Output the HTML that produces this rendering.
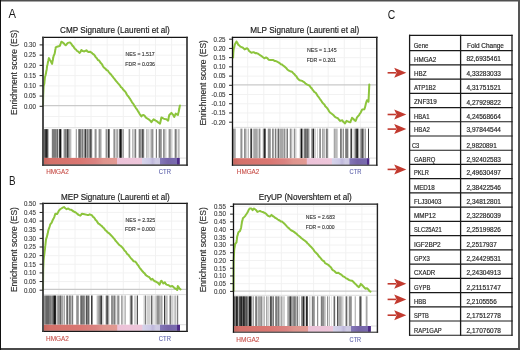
<!DOCTYPE html>
<html><head><meta charset="utf-8"><title>GSEA figure</title>
<style>html,body{margin:0;padding:0;background:#fff;}body{width:520px;height:350px;overflow:hidden;}svg{display:block;will-change:transform;font-family:"Liberation Sans", sans-serif;}</style>
</head><body>
<svg width="520" height="350" viewBox="0 0 520 350">
<defs><linearGradient id="cbar" x1="0" y1="0" x2="1" y2="0"><stop offset="0" stop-color="#c8665e"/><stop offset="0.045" stop-color="#d4716a"/><stop offset="0.27" stop-color="#da7772"/><stop offset="0.38" stop-color="#da8381"/><stop offset="0.44" stop-color="#df948d"/><stop offset="0.538" stop-color="#e29a93"/><stop offset="0.5415" stop-color="#ecc2d8"/><stop offset="0.7219" stop-color="#eec6da"/><stop offset="0.7255" stop-color="#d6d4ea"/><stop offset="0.78" stop-color="#cdc9e6"/><stop offset="0.80" stop-color="#bfb8db"/><stop offset="0.824" stop-color="#cfcbe4"/><stop offset="0.853" stop-color="#cdc8e2"/><stop offset="0.856" stop-color="#8478b8"/><stop offset="0.913" stop-color="#7664a8"/><stop offset="0.9794" stop-color="#7a6cb0"/><stop offset="0.9816" stop-color="#4f2b88"/><stop offset="1" stop-color="#4a2885"/></linearGradient></defs>
<rect x="0" y="0" width="520" height="350" fill="#fff"/>
<line x1="58.90" y1="38.00" x2="58.90" y2="127.20" stroke="#f1f1f1" stroke-width="0.9"/>
<line x1="75.00" y1="38.00" x2="75.00" y2="127.20" stroke="#f1f1f1" stroke-width="0.9"/>
<line x1="91.10" y1="38.00" x2="91.10" y2="127.20" stroke="#f1f1f1" stroke-width="0.9"/>
<line x1="107.20" y1="38.00" x2="107.20" y2="127.20" stroke="#f1f1f1" stroke-width="0.9"/>
<line x1="123.30" y1="38.00" x2="123.30" y2="127.20" stroke="#f1f1f1" stroke-width="0.9"/>
<line x1="139.40" y1="38.00" x2="139.40" y2="127.20" stroke="#f1f1f1" stroke-width="0.9"/>
<line x1="155.50" y1="38.00" x2="155.50" y2="127.20" stroke="#f1f1f1" stroke-width="0.9"/>
<line x1="171.60" y1="38.00" x2="171.60" y2="127.20" stroke="#f1f1f1" stroke-width="0.9"/>
<line x1="43.90" y1="44.90" x2="186.20" y2="44.90" stroke="#f1f1f1" stroke-width="0.9"/>
<line x1="43.90" y1="55.13" x2="186.20" y2="55.13" stroke="#f1f1f1" stroke-width="0.9"/>
<line x1="43.90" y1="65.37" x2="186.20" y2="65.37" stroke="#f1f1f1" stroke-width="0.9"/>
<line x1="43.90" y1="75.60" x2="186.20" y2="75.60" stroke="#f1f1f1" stroke-width="0.9"/>
<line x1="43.90" y1="85.83" x2="186.20" y2="85.83" stroke="#f1f1f1" stroke-width="0.9"/>
<line x1="43.90" y1="96.07" x2="186.20" y2="96.07" stroke="#f1f1f1" stroke-width="0.9"/>
<line x1="43.90" y1="116.53" x2="186.20" y2="116.53" stroke="#f1f1f1" stroke-width="0.9"/>
<line x1="43.90" y1="105.60" x2="186.20" y2="105.60" stroke="#cacaca" stroke-width="1.2"/>
<line x1="43.90" y1="127.70" x2="186.20" y2="127.70" stroke="#d4d4d4" stroke-width="0.8"/>
<rect x="44" y="129.10" width="1" height="28.80" fill="#666666"/>
<rect x="45" y="129.10" width="1" height="28.80" fill="#3c3c3c"/>
<rect x="46" y="129.10" width="1" height="28.80" fill="#262626"/>
<rect x="47" y="129.10" width="1" height="28.80" fill="#515151"/>
<rect x="48" y="129.10" width="1" height="28.80" fill="#bbbbbb"/>
<rect x="51" y="129.10" width="1" height="28.80" fill="#e6e6e6"/>
<rect x="52" y="129.10" width="1" height="28.80" fill="#7b7b7b"/>
<rect x="53" y="129.10" width="1" height="28.80" fill="#7b7b7b"/>
<rect x="54" y="129.10" width="1" height="28.80" fill="#7b7b7b"/>
<rect x="55" y="129.10" width="1" height="28.80" fill="#7b7b7b"/>
<rect x="56" y="129.10" width="1" height="28.80" fill="#909090"/>
<rect x="57" y="129.10" width="1" height="28.80" fill="#666666"/>
<rect x="58" y="129.10" width="1" height="28.80" fill="#d0d0d0"/>
<rect x="59" y="129.10" width="1" height="28.80" fill="#3c3c3c"/>
<rect x="60" y="129.10" width="1" height="28.80" fill="#141414"/>
<rect x="61" y="129.10" width="1" height="28.80" fill="#a6a6a6"/>
<rect x="63" y="129.10" width="1" height="28.80" fill="#d0d0d0"/>
<rect x="64" y="129.10" width="1" height="28.80" fill="#909090"/>
<rect x="65" y="129.10" width="1" height="28.80" fill="#7b7b7b"/>
<rect x="66" y="129.10" width="1" height="28.80" fill="#909090"/>
<rect x="67" y="129.10" width="1" height="28.80" fill="#3c3c3c"/>
<rect x="68" y="129.10" width="1" height="28.80" fill="#7b7b7b"/>
<rect x="69" y="129.10" width="1" height="28.80" fill="#a6a6a6"/>
<rect x="70" y="129.10" width="1" height="28.80" fill="#bbbbbb"/>
<rect x="71" y="129.10" width="1" height="28.80" fill="#e6e6e6"/>
<rect x="75" y="129.10" width="1" height="28.80" fill="#e6e6e6"/>
<rect x="76" y="129.10" width="1" height="28.80" fill="#a6a6a6"/>
<rect x="78" y="129.10" width="1" height="28.80" fill="#909090"/>
<rect x="79" y="129.10" width="1" height="28.80" fill="#666666"/>
<rect x="80" y="129.10" width="1" height="28.80" fill="#7b7b7b"/>
<rect x="81" y="129.10" width="1" height="28.80" fill="#a6a6a6"/>
<rect x="82" y="129.10" width="1" height="28.80" fill="#7b7b7b"/>
<rect x="83" y="129.10" width="1" height="28.80" fill="#bbbbbb"/>
<rect x="84" y="129.10" width="1" height="28.80" fill="#909090"/>
<rect x="85" y="129.10" width="1" height="28.80" fill="#3c3c3c"/>
<rect x="86" y="129.10" width="1" height="28.80" fill="#a6a6a6"/>
<rect x="87" y="129.10" width="1" height="28.80" fill="#7b7b7b"/>
<rect x="88" y="129.10" width="1" height="28.80" fill="#a6a6a6"/>
<rect x="89" y="129.10" width="1" height="28.80" fill="#909090"/>
<rect x="90" y="129.10" width="1" height="28.80" fill="#515151"/>
<rect x="91" y="129.10" width="1" height="28.80" fill="#7b7b7b"/>
<rect x="92" y="129.10" width="1" height="28.80" fill="#e6e6e6"/>
<rect x="94" y="129.10" width="1" height="28.80" fill="#d0d0d0"/>
<rect x="95" y="129.10" width="1" height="28.80" fill="#909090"/>
<rect x="96" y="129.10" width="1" height="28.80" fill="#bbbbbb"/>
<rect x="98" y="129.10" width="1" height="28.80" fill="#d0d0d0"/>
<rect x="99" y="129.10" width="1" height="28.80" fill="#909090"/>
<rect x="100" y="129.10" width="1" height="28.80" fill="#a6a6a6"/>
<rect x="101" y="129.10" width="1" height="28.80" fill="#d0d0d0"/>
<rect x="105" y="129.10" width="1" height="28.80" fill="#d0d0d0"/>
<rect x="106" y="129.10" width="1" height="28.80" fill="#909090"/>
<rect x="107" y="129.10" width="1" height="28.80" fill="#bbbbbb"/>
<rect x="108" y="129.10" width="1" height="28.80" fill="#3c3c3c"/>
<rect x="109" y="129.10" width="1" height="28.80" fill="#7b7b7b"/>
<rect x="113" y="129.10" width="1" height="28.80" fill="#bbbbbb"/>
<rect x="114" y="129.10" width="1" height="28.80" fill="#909090"/>
<rect x="115" y="129.10" width="1" height="28.80" fill="#d0d0d0"/>
<rect x="116" y="129.10" width="1" height="28.80" fill="#bbbbbb"/>
<rect x="117" y="129.10" width="1" height="28.80" fill="#a6a6a6"/>
<rect x="118" y="129.10" width="1" height="28.80" fill="#e6e6e6"/>
<rect x="119" y="129.10" width="1" height="28.80" fill="#666666"/>
<rect x="120" y="129.10" width="1" height="28.80" fill="#141414"/>
<rect x="121" y="129.10" width="1" height="28.80" fill="#515151"/>
<rect x="122" y="129.10" width="1" height="28.80" fill="#bbbbbb"/>
<rect x="123" y="129.10" width="1" height="28.80" fill="#a6a6a6"/>
<rect x="128" y="129.10" width="1" height="28.80" fill="#d0d0d0"/>
<rect x="129" y="129.10" width="1" height="28.80" fill="#909090"/>
<rect x="130" y="129.10" width="1" height="28.80" fill="#e6e6e6"/>
<rect x="132" y="129.10" width="1" height="28.80" fill="#bbbbbb"/>
<rect x="133" y="129.10" width="1" height="28.80" fill="#d0d0d0"/>
<rect x="134" y="129.10" width="1" height="28.80" fill="#bbbbbb"/>
<rect x="135" y="129.10" width="1" height="28.80" fill="#7b7b7b"/>
<rect x="136" y="129.10" width="1" height="28.80" fill="#e6e6e6"/>
<rect x="138" y="129.10" width="1" height="28.80" fill="#d0d0d0"/>
<rect x="139" y="129.10" width="1" height="28.80" fill="#7b7b7b"/>
<rect x="140" y="129.10" width="1" height="28.80" fill="#909090"/>
<rect x="141" y="129.10" width="1" height="28.80" fill="#a6a6a6"/>
<rect x="142" y="129.10" width="1" height="28.80" fill="#515151"/>
<rect x="143" y="129.10" width="1" height="28.80" fill="#7b7b7b"/>
<rect x="144" y="129.10" width="1" height="28.80" fill="#e6e6e6"/>
<rect x="146" y="129.10" width="1" height="28.80" fill="#bbbbbb"/>
<rect x="147" y="129.10" width="1" height="28.80" fill="#d0d0d0"/>
<rect x="148" y="129.10" width="1" height="28.80" fill="#d0d0d0"/>
<rect x="149" y="129.10" width="1" height="28.80" fill="#e6e6e6"/>
<rect x="150" y="129.10" width="1" height="28.80" fill="#d0d0d0"/>
<rect x="151" y="129.10" width="1" height="28.80" fill="#a6a6a6"/>
<rect x="152" y="129.10" width="1" height="28.80" fill="#909090"/>
<rect x="153" y="129.10" width="1" height="28.80" fill="#d0d0d0"/>
<rect x="155" y="129.10" width="1" height="28.80" fill="#e6e6e6"/>
<rect x="156" y="129.10" width="1" height="28.80" fill="#7b7b7b"/>
<rect x="158" y="129.10" width="1" height="28.80" fill="#d0d0d0"/>
<rect x="159" y="129.10" width="1" height="28.80" fill="#7b7b7b"/>
<rect x="160" y="129.10" width="1" height="28.80" fill="#909090"/>
<rect x="161" y="129.10" width="1" height="28.80" fill="#a6a6a6"/>
<rect x="163" y="129.10" width="1" height="28.80" fill="#909090"/>
<rect x="164" y="129.10" width="1" height="28.80" fill="#a6a6a6"/>
<rect x="165" y="129.10" width="1" height="28.80" fill="#d0d0d0"/>
<rect x="166" y="129.10" width="1" height="28.80" fill="#e6e6e6"/>
<rect x="168" y="129.10" width="1" height="28.80" fill="#d0d0d0"/>
<rect x="169" y="129.10" width="1" height="28.80" fill="#909090"/>
<rect x="170" y="129.10" width="1" height="28.80" fill="#a6a6a6"/>
<rect x="171" y="129.10" width="1" height="28.80" fill="#d0d0d0"/>
<rect x="172" y="129.10" width="1" height="28.80" fill="#e6e6e6"/>
<rect x="174" y="129.10" width="1" height="28.80" fill="#d0d0d0"/>
<rect x="175" y="129.10" width="1" height="28.80" fill="#7b7b7b"/>
<rect x="176" y="129.10" width="1" height="28.80" fill="#a6a6a6"/>
<rect x="177" y="129.10" width="1" height="28.80" fill="#e6e6e6"/>
<rect x="178" y="129.10" width="1" height="28.80" fill="#bbbbbb"/>
<rect x="179" y="129.10" width="1" height="28.80" fill="#d0d0d0"/>
<line x1="179.80" y1="158.10" x2="186.20" y2="158.10" stroke="#dadada" stroke-width="0.9"/>
<rect x="43.90" y="157.90" width="135.90" height="6.70" fill="url(#cbar)"/>
<polyline points="43.00,106.00 43.02,104.62 43.05,103.25 43.08,101.88 43.10,100.50 43.12,99.12 43.15,97.75 43.18,96.38 43.20,95.00 43.27,93.73 43.33,92.61 43.40,91.15 43.47,89.36 43.53,88.39 43.60,86.60 43.95,84.90 44.30,84.00 44.42,82.98 44.54,81.27 44.66,80.09 44.78,78.75 44.90,77.40 45.30,76.05 45.70,74.50 46.00,73.28 46.30,71.16 46.60,70.00 46.77,68.90 46.93,67.35 47.10,66.00 47.40,64.92 47.70,63.50 48.00,61.84 48.30,60.75 48.60,59.30 48.90,58.10 49.80,59.76 50.70,61.00 51.40,62.46 52.10,63.90 52.35,62.42 52.60,60.84 52.85,60.12 53.10,58.30 53.35,57.32 53.60,56.00 54.60,53.90 54.82,52.77 55.04,51.54 55.26,49.93 55.48,49.01 55.70,47.40 57.10,46.70 58.60,46.30 59.70,46.00 60.27,44.74 60.83,43.25 61.40,41.70 62.50,42.38 63.60,43.10 64.65,44.44 65.70,45.30 66.80,44.03 67.90,42.90 70.00,42.40 71.40,43.90 72.37,45.60 73.33,46.35 74.30,48.10 75.23,48.98 76.17,49.75 77.10,51.00 78.40,51.73 79.70,52.90 80.55,51.76 81.40,50.00 82.85,51.10 84.30,51.40 86.40,50.30 87.50,51.45 88.60,52.10 90.00,51.70 91.40,52.60 92.50,53.59 93.60,54.30 94.65,55.40 95.70,57.10 96.80,58.20 97.90,60.00 99.30,60.70 100.35,62.48 101.40,63.60 102.13,64.44 102.87,65.95 103.60,67.10 104.53,68.06 105.47,68.67 106.40,70.00 107.90,70.70 108.95,72.25 110.00,73.60 110.90,74.27 111.80,75.59 112.70,76.72 113.60,77.90 114.47,78.96 115.35,80.12 116.22,81.26 117.10,82.10 118.07,83.36 119.03,84.38 120.00,85.60 120.97,87.18 121.93,87.74 122.90,89.30 124.30,90.70 125.13,91.47 125.97,92.79 126.80,94.49 127.63,95.79 128.47,96.56 129.30,97.90 130.01,98.74 130.73,100.16 131.44,101.16 132.16,102.61 132.87,103.28 133.59,104.29 134.30,105.70 135.16,106.75 136.02,108.36 136.88,109.21 137.74,110.75 138.60,112.10 139.53,113.79 140.47,115.21 141.40,116.40 142.50,115.26 143.60,115.00 144.65,115.78 145.70,117.40 147.15,118.49 148.60,119.30 149.53,120.12 150.47,120.82 151.40,122.10 152.50,120.69 153.60,119.30 155.70,120.70 156.80,121.22 157.90,122.10 160.00,123.60 160.35,122.37 160.70,120.83 161.05,118.97 161.40,117.40 163.60,118.60 165.00,119.05 166.40,119.30 168.10,120.70 168.40,119.61 168.70,117.63 169.00,116.20 169.30,115.00 170.35,113.95 171.40,112.90 172.90,114.60 173.60,115.80 174.30,116.90 175.00,115.11 175.70,113.60 176.80,114.29 177.90,115.00 178.27,113.18 178.63,111.96 179.00,110.00 179.33,108.55 179.67,106.48 180.00,105.40" fill="none" stroke="#8cc43c" stroke-width="2.0" stroke-linejoin="round" stroke-linecap="round"/>
<line x1="42.10" y1="37.40" x2="187.80" y2="37.40" stroke="#151515" stroke-width="1.2"/>
<line x1="42.10" y1="165.10" x2="187.80" y2="165.10" stroke="#1a1a1a" stroke-width="1.2"/>
<line x1="43.00" y1="36.80" x2="43.00" y2="165.70" stroke="#3a3a3a" stroke-width="1.8"/>
<line x1="187.00" y1="36.80" x2="187.00" y2="165.70" stroke="#2a2a2a" stroke-width="1.6"/>
<line x1="39.60" y1="44.90" x2="43.00" y2="44.90" stroke="#222" stroke-width="1"/>
<text x="23.90" y="47.25" font-size="6.5" fill="#3c3c3c" stroke="#3c3c3c" stroke-width="0.12" textLength="12.00" lengthAdjust="spacingAndGlyphs">0.30</text>
<line x1="39.60" y1="55.13" x2="43.00" y2="55.13" stroke="#222" stroke-width="1"/>
<text x="23.90" y="57.48" font-size="6.5" fill="#3c3c3c" stroke="#3c3c3c" stroke-width="0.12" textLength="12.00" lengthAdjust="spacingAndGlyphs">0.25</text>
<line x1="39.60" y1="65.37" x2="43.00" y2="65.37" stroke="#222" stroke-width="1"/>
<text x="23.90" y="67.72" font-size="6.5" fill="#3c3c3c" stroke="#3c3c3c" stroke-width="0.12" textLength="12.00" lengthAdjust="spacingAndGlyphs">0.20</text>
<line x1="39.60" y1="75.60" x2="43.00" y2="75.60" stroke="#222" stroke-width="1"/>
<text x="23.90" y="77.95" font-size="6.5" fill="#3c3c3c" stroke="#3c3c3c" stroke-width="0.12" textLength="12.00" lengthAdjust="spacingAndGlyphs">0.15</text>
<line x1="39.60" y1="85.83" x2="43.00" y2="85.83" stroke="#222" stroke-width="1"/>
<text x="23.90" y="88.18" font-size="6.5" fill="#3c3c3c" stroke="#3c3c3c" stroke-width="0.12" textLength="12.00" lengthAdjust="spacingAndGlyphs">0.10</text>
<line x1="39.60" y1="96.07" x2="43.00" y2="96.07" stroke="#222" stroke-width="1"/>
<text x="23.90" y="98.42" font-size="6.5" fill="#3c3c3c" stroke="#3c3c3c" stroke-width="0.12" textLength="12.00" lengthAdjust="spacingAndGlyphs">0.05</text>
<line x1="39.60" y1="106.30" x2="43.00" y2="106.30" stroke="#222" stroke-width="1"/>
<text x="23.90" y="108.65" font-size="6.5" fill="#3c3c3c" stroke="#3c3c3c" stroke-width="0.12" textLength="12.00" lengthAdjust="spacingAndGlyphs">0.00</text>
<text transform="translate(16.70,114.90) rotate(-90)" x="0" y="0" font-size="9" fill="#2e2e2e" stroke="#2e2e2e" stroke-width="0.15" textLength="85.00" lengthAdjust="spacingAndGlyphs">Enrichment score (ES)</text>
<text x="60.10" y="33.00" font-size="8.8" fill="#222" stroke="#222" stroke-width="0.18" textLength="109.70" lengthAdjust="spacingAndGlyphs">CMP Signature (Laurenti et al)</text>
<text x="125.50" y="55.80" font-size="5.6" fill="#333" stroke="#333" stroke-width="0.12" textLength="29.10" lengthAdjust="spacingAndGlyphs">NES = 1.517</text>
<text x="125.20" y="66.00" font-size="5.6" fill="#333" stroke="#333" stroke-width="0.12" textLength="29.80" lengthAdjust="spacingAndGlyphs">FDR = 0.036</text>
<text x="46.20" y="174.40" font-size="6.8" fill="#c8504a" stroke="#c8504a" stroke-width="0.12" textLength="22.60" lengthAdjust="spacingAndGlyphs">HMGA2</text>
<text x="158.80" y="174.40" font-size="6.8" fill="#6064ad" stroke="#6064ad" stroke-width="0.12" textLength="12.10" lengthAdjust="spacingAndGlyphs">CTR</text>
<line x1="247.70" y1="38.00" x2="247.70" y2="126.90" stroke="#f1f1f1" stroke-width="0.9"/>
<line x1="263.80" y1="38.00" x2="263.80" y2="126.90" stroke="#f1f1f1" stroke-width="0.9"/>
<line x1="279.90" y1="38.00" x2="279.90" y2="126.90" stroke="#f1f1f1" stroke-width="0.9"/>
<line x1="296.00" y1="38.00" x2="296.00" y2="126.90" stroke="#f1f1f1" stroke-width="0.9"/>
<line x1="312.10" y1="38.00" x2="312.10" y2="126.90" stroke="#f1f1f1" stroke-width="0.9"/>
<line x1="328.20" y1="38.00" x2="328.20" y2="126.90" stroke="#f1f1f1" stroke-width="0.9"/>
<line x1="344.30" y1="38.00" x2="344.30" y2="126.90" stroke="#f1f1f1" stroke-width="0.9"/>
<line x1="360.40" y1="38.00" x2="360.40" y2="126.90" stroke="#f1f1f1" stroke-width="0.9"/>
<line x1="233.15" y1="39.20" x2="376.05" y2="39.20" stroke="#f1f1f1" stroke-width="0.9"/>
<line x1="233.15" y1="48.42" x2="376.05" y2="48.42" stroke="#f1f1f1" stroke-width="0.9"/>
<line x1="233.15" y1="57.64" x2="376.05" y2="57.64" stroke="#f1f1f1" stroke-width="0.9"/>
<line x1="233.15" y1="66.86" x2="376.05" y2="66.86" stroke="#f1f1f1" stroke-width="0.9"/>
<line x1="233.15" y1="76.08" x2="376.05" y2="76.08" stroke="#f1f1f1" stroke-width="0.9"/>
<line x1="233.15" y1="94.52" x2="376.05" y2="94.52" stroke="#f1f1f1" stroke-width="0.9"/>
<line x1="233.15" y1="103.74" x2="376.05" y2="103.74" stroke="#f1f1f1" stroke-width="0.9"/>
<line x1="233.15" y1="112.96" x2="376.05" y2="112.96" stroke="#f1f1f1" stroke-width="0.9"/>
<line x1="233.15" y1="122.18" x2="376.05" y2="122.18" stroke="#f1f1f1" stroke-width="0.9"/>
<line x1="233.15" y1="84.90" x2="376.05" y2="84.90" stroke="#cacaca" stroke-width="1.2"/>
<line x1="233.15" y1="127.40" x2="376.05" y2="127.40" stroke="#d4d4d4" stroke-width="0.8"/>
<rect x="233" y="128.60" width="1" height="29.60" fill="#909090"/>
<rect x="234" y="128.60" width="1" height="29.60" fill="#a6a6a6"/>
<rect x="235" y="128.60" width="1" height="29.60" fill="#bbbbbb"/>
<rect x="240" y="128.60" width="1" height="29.60" fill="#bbbbbb"/>
<rect x="241" y="128.60" width="1" height="29.60" fill="#909090"/>
<rect x="242" y="128.60" width="1" height="29.60" fill="#d0d0d0"/>
<rect x="244" y="128.60" width="1" height="29.60" fill="#909090"/>
<rect x="245" y="128.60" width="1" height="29.60" fill="#a6a6a6"/>
<rect x="246" y="128.60" width="1" height="29.60" fill="#d0d0d0"/>
<rect x="247" y="128.60" width="1" height="29.60" fill="#e6e6e6"/>
<rect x="248" y="128.60" width="1" height="29.60" fill="#bbbbbb"/>
<rect x="250" y="128.60" width="1" height="29.60" fill="#7b7b7b"/>
<rect x="251" y="128.60" width="1" height="29.60" fill="#3c3c3c"/>
<rect x="252" y="128.60" width="1" height="29.60" fill="#e6e6e6"/>
<rect x="253" y="128.60" width="1" height="29.60" fill="#bbbbbb"/>
<rect x="254" y="128.60" width="1" height="29.60" fill="#a6a6a6"/>
<rect x="255" y="128.60" width="1" height="29.60" fill="#a6a6a6"/>
<rect x="256" y="128.60" width="1" height="29.60" fill="#a6a6a6"/>
<rect x="257" y="128.60" width="1" height="29.60" fill="#bbbbbb"/>
<rect x="258" y="128.60" width="1" height="29.60" fill="#d0d0d0"/>
<rect x="259" y="128.60" width="1" height="29.60" fill="#909090"/>
<rect x="260" y="128.60" width="1" height="29.60" fill="#d0d0d0"/>
<rect x="262" y="128.60" width="1" height="29.60" fill="#e6e6e6"/>
<rect x="263" y="128.60" width="1" height="29.60" fill="#909090"/>
<rect x="264" y="128.60" width="1" height="29.60" fill="#262626"/>
<rect x="265" y="128.60" width="1" height="29.60" fill="#666666"/>
<rect x="267" y="128.60" width="1" height="29.60" fill="#e6e6e6"/>
<rect x="268" y="128.60" width="1" height="29.60" fill="#909090"/>
<rect x="269" y="128.60" width="1" height="29.60" fill="#909090"/>
<rect x="270" y="128.60" width="1" height="29.60" fill="#a6a6a6"/>
<rect x="272" y="128.60" width="1" height="29.60" fill="#909090"/>
<rect x="273" y="128.60" width="1" height="29.60" fill="#a6a6a6"/>
<rect x="274" y="128.60" width="1" height="29.60" fill="#e6e6e6"/>
<rect x="275" y="128.60" width="1" height="29.60" fill="#7b7b7b"/>
<rect x="276" y="128.60" width="1" height="29.60" fill="#d0d0d0"/>
<rect x="277" y="128.60" width="1" height="29.60" fill="#bbbbbb"/>
<rect x="278" y="128.60" width="1" height="29.60" fill="#666666"/>
<rect x="279" y="128.60" width="1" height="29.60" fill="#bbbbbb"/>
<rect x="280" y="128.60" width="1" height="29.60" fill="#a6a6a6"/>
<rect x="281" y="128.60" width="1" height="29.60" fill="#a6a6a6"/>
<rect x="282" y="128.60" width="1" height="29.60" fill="#a6a6a6"/>
<rect x="283" y="128.60" width="1" height="29.60" fill="#bbbbbb"/>
<rect x="284" y="128.60" width="1" height="29.60" fill="#909090"/>
<rect x="285" y="128.60" width="1" height="29.60" fill="#d0d0d0"/>
<rect x="286" y="128.60" width="1" height="29.60" fill="#bbbbbb"/>
<rect x="287" y="128.60" width="1" height="29.60" fill="#7b7b7b"/>
<rect x="289" y="128.60" width="1" height="29.60" fill="#e6e6e6"/>
<rect x="290" y="128.60" width="1" height="29.60" fill="#909090"/>
<rect x="291" y="128.60" width="1" height="29.60" fill="#bbbbbb"/>
<rect x="292" y="128.60" width="1" height="29.60" fill="#e6e6e6"/>
<rect x="293" y="128.60" width="1" height="29.60" fill="#e6e6e6"/>
<rect x="294" y="128.60" width="1" height="29.60" fill="#909090"/>
<rect x="295" y="128.60" width="1" height="29.60" fill="#d0d0d0"/>
<rect x="296" y="128.60" width="1" height="29.60" fill="#e6e6e6"/>
<rect x="299" y="128.60" width="1" height="29.60" fill="#e6e6e6"/>
<rect x="300" y="128.60" width="1" height="29.60" fill="#909090"/>
<rect x="301" y="128.60" width="1" height="29.60" fill="#141414"/>
<rect x="302" y="128.60" width="1" height="29.60" fill="#909090"/>
<rect x="303" y="128.60" width="1" height="29.60" fill="#d0d0d0"/>
<rect x="304" y="128.60" width="1" height="29.60" fill="#7b7b7b"/>
<rect x="305" y="128.60" width="1" height="29.60" fill="#666666"/>
<rect x="306" y="128.60" width="1" height="29.60" fill="#7b7b7b"/>
<rect x="307" y="128.60" width="1" height="29.60" fill="#666666"/>
<rect x="308" y="128.60" width="1" height="29.60" fill="#909090"/>
<rect x="309" y="128.60" width="1" height="29.60" fill="#d0d0d0"/>
<rect x="311" y="128.60" width="1" height="29.60" fill="#a6a6a6"/>
<rect x="312" y="128.60" width="1" height="29.60" fill="#7b7b7b"/>
<rect x="313" y="128.60" width="1" height="29.60" fill="#262626"/>
<rect x="314" y="128.60" width="1" height="29.60" fill="#d0d0d0"/>
<rect x="315" y="128.60" width="1" height="29.60" fill="#d0d0d0"/>
<rect x="317" y="128.60" width="1" height="29.60" fill="#d0d0d0"/>
<rect x="319" y="128.60" width="1" height="29.60" fill="#a6a6a6"/>
<rect x="320" y="128.60" width="1" height="29.60" fill="#909090"/>
<rect x="322" y="128.60" width="1" height="29.60" fill="#a6a6a6"/>
<rect x="323" y="128.60" width="1" height="29.60" fill="#bbbbbb"/>
<rect x="324" y="128.60" width="1" height="29.60" fill="#bbbbbb"/>
<rect x="325" y="128.60" width="1" height="29.60" fill="#e6e6e6"/>
<rect x="326" y="128.60" width="1" height="29.60" fill="#7b7b7b"/>
<rect x="327" y="128.60" width="1" height="29.60" fill="#909090"/>
<rect x="328" y="128.60" width="1" height="29.60" fill="#e6e6e6"/>
<rect x="333" y="128.60" width="1" height="29.60" fill="#e6e6e6"/>
<rect x="334" y="128.60" width="1" height="29.60" fill="#a6a6a6"/>
<rect x="335" y="128.60" width="1" height="29.60" fill="#bbbbbb"/>
<rect x="336" y="128.60" width="1" height="29.60" fill="#bbbbbb"/>
<rect x="337" y="128.60" width="1" height="29.60" fill="#d0d0d0"/>
<rect x="340" y="128.60" width="1" height="29.60" fill="#7b7b7b"/>
<rect x="341" y="128.60" width="1" height="29.60" fill="#909090"/>
<rect x="342" y="128.60" width="1" height="29.60" fill="#d0d0d0"/>
<rect x="343" y="128.60" width="1" height="29.60" fill="#909090"/>
<rect x="345" y="128.60" width="1" height="29.60" fill="#909090"/>
<rect x="346" y="128.60" width="1" height="29.60" fill="#7b7b7b"/>
<rect x="347" y="128.60" width="1" height="29.60" fill="#7b7b7b"/>
<rect x="348" y="128.60" width="1" height="29.60" fill="#d0d0d0"/>
<rect x="350" y="128.60" width="1" height="29.60" fill="#909090"/>
<rect x="351" y="128.60" width="1" height="29.60" fill="#3c3c3c"/>
<rect x="352" y="128.60" width="1" height="29.60" fill="#e6e6e6"/>
<rect x="353" y="128.60" width="1" height="29.60" fill="#e6e6e6"/>
<rect x="354" y="128.60" width="1" height="29.60" fill="#bbbbbb"/>
<rect x="355" y="128.60" width="1" height="29.60" fill="#7b7b7b"/>
<rect x="356" y="128.60" width="1" height="29.60" fill="#3c3c3c"/>
<rect x="357" y="128.60" width="1" height="29.60" fill="#262626"/>
<rect x="358" y="128.60" width="1" height="29.60" fill="#a6a6a6"/>
<rect x="359" y="128.60" width="1" height="29.60" fill="#e6e6e6"/>
<rect x="360" y="128.60" width="1" height="29.60" fill="#a6a6a6"/>
<rect x="361" y="128.60" width="1" height="29.60" fill="#7b7b7b"/>
<rect x="362" y="128.60" width="1" height="29.60" fill="#515151"/>
<rect x="363" y="128.60" width="1" height="29.60" fill="#909090"/>
<rect x="364" y="128.60" width="1" height="29.60" fill="#d0d0d0"/>
<rect x="365" y="128.60" width="1" height="29.60" fill="#a6a6a6"/>
<rect x="368" y="128.60" width="1" height="29.60" fill="#3c3c3c"/>
<line x1="369.30" y1="158.10" x2="376.05" y2="158.10" stroke="#dadada" stroke-width="0.9"/>
<rect x="233.15" y="158.20" width="136.15" height="6.60" fill="url(#cbar)"/>
<polyline points="233.10,57.50 233.17,56.00 233.23,54.50 233.30,53.00 233.45,51.35 233.60,49.70 233.90,48.11 234.20,47.55 234.50,46.00 234.80,44.60 235.65,43.11 236.50,41.50 237.35,42.76 238.20,44.60 239.25,45.44 240.30,46.60 241.60,47.11 242.90,47.70 244.60,49.40 245.85,48.76 247.10,48.30 247.97,48.97 248.83,50.67 249.70,51.40 251.40,52.80 252.70,52.36 254.00,52.30 255.30,53.14 256.60,53.10 257.85,53.61 259.10,54.50 260.40,55.41 261.70,56.20 263.00,57.32 264.30,58.30 266.00,57.40 267.30,58.18 268.60,59.70 270.30,59.89 272.00,60.00 273.30,60.11 274.60,60.90 275.85,61.11 277.10,61.70 278.40,62.29 279.70,63.10 280.83,64.19 281.97,64.43 283.10,65.50 285.00,66.90 286.13,67.94 287.27,69.45 288.40,70.30 290.15,71.24 291.90,71.70 293.03,72.94 294.17,73.91 295.30,75.40 296.38,76.33 297.45,78.20 298.53,79.37 299.60,80.20 302.10,80.90 303.27,81.71 304.43,82.36 305.60,83.70 307.30,84.66 309.00,85.40 309.86,86.02 310.72,87.53 311.58,88.05 312.44,89.64 313.30,90.50 314.43,92.09 315.57,92.60 316.70,94.30 317.56,95.85 318.42,96.76 319.28,97.98 320.14,99.29 321.00,100.30 321.85,101.88 322.70,102.95 323.55,103.72 324.40,104.58 325.25,106.21 326.10,107.10 326.96,107.88 327.82,109.06 328.68,110.60 329.54,111.85 330.40,112.80 332.40,114.30 333.55,115.24 334.70,116.70 336.30,117.63 337.90,118.20 339.05,119.86 340.20,120.90 342.30,120.30 343.17,121.75 344.03,122.37 344.90,123.40 345.70,122.36 346.50,120.90 348.90,121.90 350.40,122.20 350.93,120.41 351.47,119.64 352.00,117.80 353.60,119.00 354.55,120.39 355.50,120.90 356.17,119.76 356.83,117.78 357.50,116.70 359.10,115.10 359.90,113.59 360.70,112.70 361.45,110.88 362.20,109.60 364.30,109.30 364.85,107.95 365.40,105.70 365.80,104.03 366.20,102.57 366.60,101.24 367.00,100.20 368.50,101.70 368.56,100.64 368.62,99.16 368.68,97.72 368.75,96.34 368.81,95.26 368.87,93.67 368.93,92.24 368.99,91.26 369.05,89.99 369.12,88.62 369.18,86.83 369.24,85.97 369.30,84.40" fill="none" stroke="#8cc43c" stroke-width="2.0" stroke-linejoin="round" stroke-linecap="round"/>
<line x1="231.85" y1="37.40" x2="377.55" y2="37.40" stroke="#151515" stroke-width="1.2"/>
<line x1="231.85" y1="165.20" x2="377.55" y2="165.20" stroke="#1a1a1a" stroke-width="1.0"/>
<line x1="232.50" y1="36.80" x2="232.50" y2="165.70" stroke="#111111" stroke-width="1.3"/>
<line x1="376.80" y1="36.80" x2="376.80" y2="165.70" stroke="#222222" stroke-width="1.5"/>
<line x1="229.10" y1="39.20" x2="232.50" y2="39.20" stroke="#222" stroke-width="1"/>
<text x="213.50" y="41.55" font-size="6.5" fill="#3c3c3c" stroke="#3c3c3c" stroke-width="0.12" textLength="12.00" lengthAdjust="spacingAndGlyphs">0.25</text>
<line x1="229.10" y1="48.42" x2="232.50" y2="48.42" stroke="#222" stroke-width="1"/>
<text x="213.50" y="50.77" font-size="6.5" fill="#3c3c3c" stroke="#3c3c3c" stroke-width="0.12" textLength="12.00" lengthAdjust="spacingAndGlyphs">0.20</text>
<line x1="229.10" y1="57.64" x2="232.50" y2="57.64" stroke="#222" stroke-width="1"/>
<text x="213.50" y="59.99" font-size="6.5" fill="#3c3c3c" stroke="#3c3c3c" stroke-width="0.12" textLength="12.00" lengthAdjust="spacingAndGlyphs">0.15</text>
<line x1="229.10" y1="66.86" x2="232.50" y2="66.86" stroke="#222" stroke-width="1"/>
<text x="213.50" y="69.21" font-size="6.5" fill="#3c3c3c" stroke="#3c3c3c" stroke-width="0.12" textLength="12.00" lengthAdjust="spacingAndGlyphs">0.10</text>
<line x1="229.10" y1="76.08" x2="232.50" y2="76.08" stroke="#222" stroke-width="1"/>
<text x="213.50" y="78.43" font-size="6.5" fill="#3c3c3c" stroke="#3c3c3c" stroke-width="0.12" textLength="12.00" lengthAdjust="spacingAndGlyphs">0.05</text>
<line x1="229.10" y1="85.30" x2="232.50" y2="85.30" stroke="#222" stroke-width="1"/>
<text x="213.50" y="87.65" font-size="6.5" fill="#3c3c3c" stroke="#3c3c3c" stroke-width="0.12" textLength="12.00" lengthAdjust="spacingAndGlyphs">0.00</text>
<line x1="229.10" y1="94.52" x2="232.50" y2="94.52" stroke="#222" stroke-width="1"/>
<text x="211.50" y="96.87" font-size="6.5" fill="#3c3c3c" stroke="#3c3c3c" stroke-width="0.12" textLength="14.00" lengthAdjust="spacingAndGlyphs">-0.05</text>
<line x1="229.10" y1="103.74" x2="232.50" y2="103.74" stroke="#222" stroke-width="1"/>
<text x="211.50" y="106.09" font-size="6.5" fill="#3c3c3c" stroke="#3c3c3c" stroke-width="0.12" textLength="14.00" lengthAdjust="spacingAndGlyphs">-0.10</text>
<line x1="229.10" y1="112.96" x2="232.50" y2="112.96" stroke="#222" stroke-width="1"/>
<text x="211.50" y="115.31" font-size="6.5" fill="#3c3c3c" stroke="#3c3c3c" stroke-width="0.12" textLength="14.00" lengthAdjust="spacingAndGlyphs">-0.15</text>
<line x1="229.10" y1="122.18" x2="232.50" y2="122.18" stroke="#222" stroke-width="1"/>
<text x="211.50" y="124.53" font-size="6.5" fill="#3c3c3c" stroke="#3c3c3c" stroke-width="0.12" textLength="14.00" lengthAdjust="spacingAndGlyphs">-0.20</text>
<text transform="translate(206.20,125.60) rotate(-90)" x="0" y="0" font-size="9" fill="#2e2e2e" stroke="#2e2e2e" stroke-width="0.15" textLength="85.50" lengthAdjust="spacingAndGlyphs">Enrichment score (ES)</text>
<text x="250.20" y="33.00" font-size="8.8" fill="#222" stroke="#222" stroke-width="0.18" textLength="109.10" lengthAdjust="spacingAndGlyphs">MLP Signature (Laurenti et al)</text>
<text x="306.90" y="51.50" font-size="5.6" fill="#333" stroke="#333" stroke-width="0.12" textLength="29.80" lengthAdjust="spacingAndGlyphs">NES = 1.145</text>
<text x="306.70" y="61.70" font-size="5.6" fill="#333" stroke="#333" stroke-width="0.12" textLength="29.30" lengthAdjust="spacingAndGlyphs">FDR = 0.201</text>
<text x="236.80" y="174.40" font-size="6.8" fill="#c8504a" stroke="#c8504a" stroke-width="0.12" textLength="22.60" lengthAdjust="spacingAndGlyphs">HMGA2</text>
<text x="349.60" y="174.40" font-size="6.8" fill="#6064ad" stroke="#6064ad" stroke-width="0.12" textLength="11.80" lengthAdjust="spacingAndGlyphs">CTR</text>
<line x1="58.90" y1="204.05" x2="58.90" y2="294.10" stroke="#f1f1f1" stroke-width="0.9"/>
<line x1="75.00" y1="204.05" x2="75.00" y2="294.10" stroke="#f1f1f1" stroke-width="0.9"/>
<line x1="91.10" y1="204.05" x2="91.10" y2="294.10" stroke="#f1f1f1" stroke-width="0.9"/>
<line x1="107.20" y1="204.05" x2="107.20" y2="294.10" stroke="#f1f1f1" stroke-width="0.9"/>
<line x1="123.30" y1="204.05" x2="123.30" y2="294.10" stroke="#f1f1f1" stroke-width="0.9"/>
<line x1="139.40" y1="204.05" x2="139.40" y2="294.10" stroke="#f1f1f1" stroke-width="0.9"/>
<line x1="155.50" y1="204.05" x2="155.50" y2="294.10" stroke="#f1f1f1" stroke-width="0.9"/>
<line x1="171.60" y1="204.05" x2="171.60" y2="294.10" stroke="#f1f1f1" stroke-width="0.9"/>
<line x1="43.90" y1="203.80" x2="186.20" y2="203.80" stroke="#f1f1f1" stroke-width="0.9"/>
<line x1="43.90" y1="212.44" x2="186.20" y2="212.44" stroke="#f1f1f1" stroke-width="0.9"/>
<line x1="43.90" y1="221.08" x2="186.20" y2="221.08" stroke="#f1f1f1" stroke-width="0.9"/>
<line x1="43.90" y1="229.72" x2="186.20" y2="229.72" stroke="#f1f1f1" stroke-width="0.9"/>
<line x1="43.90" y1="238.36" x2="186.20" y2="238.36" stroke="#f1f1f1" stroke-width="0.9"/>
<line x1="43.90" y1="247.00" x2="186.20" y2="247.00" stroke="#f1f1f1" stroke-width="0.9"/>
<line x1="43.90" y1="255.64" x2="186.20" y2="255.64" stroke="#f1f1f1" stroke-width="0.9"/>
<line x1="43.90" y1="264.28" x2="186.20" y2="264.28" stroke="#f1f1f1" stroke-width="0.9"/>
<line x1="43.90" y1="272.92" x2="186.20" y2="272.92" stroke="#f1f1f1" stroke-width="0.9"/>
<line x1="43.90" y1="281.56" x2="186.20" y2="281.56" stroke="#f1f1f1" stroke-width="0.9"/>
<line x1="43.90" y1="289.40" x2="186.20" y2="289.40" stroke="#cacaca" stroke-width="1.2"/>
<line x1="43.90" y1="294.60" x2="186.20" y2="294.60" stroke="#d4d4d4" stroke-width="0.8"/>
<rect x="44" y="295.50" width="1" height="29.20" fill="#909090"/>
<rect x="45" y="295.50" width="1" height="29.20" fill="#7b7b7b"/>
<rect x="46" y="295.50" width="1" height="29.20" fill="#666666"/>
<rect x="47" y="295.50" width="1" height="29.20" fill="#666666"/>
<rect x="48" y="295.50" width="1" height="29.20" fill="#666666"/>
<rect x="49" y="295.50" width="1" height="29.20" fill="#7b7b7b"/>
<rect x="50" y="295.50" width="1" height="29.20" fill="#7b7b7b"/>
<rect x="51" y="295.50" width="1" height="29.20" fill="#909090"/>
<rect x="52" y="295.50" width="1" height="29.20" fill="#7b7b7b"/>
<rect x="53" y="295.50" width="1" height="29.20" fill="#515151"/>
<rect x="54" y="295.50" width="1" height="29.20" fill="#141414"/>
<rect x="55" y="295.50" width="1" height="29.20" fill="#262626"/>
<rect x="56" y="295.50" width="1" height="29.20" fill="#d0d0d0"/>
<rect x="57" y="295.50" width="1" height="29.20" fill="#a6a6a6"/>
<rect x="58" y="295.50" width="1" height="29.20" fill="#909090"/>
<rect x="59" y="295.50" width="1" height="29.20" fill="#909090"/>
<rect x="60" y="295.50" width="1" height="29.20" fill="#666666"/>
<rect x="61" y="295.50" width="1" height="29.20" fill="#a6a6a6"/>
<rect x="62" y="295.50" width="1" height="29.20" fill="#a6a6a6"/>
<rect x="63" y="295.50" width="1" height="29.20" fill="#d0d0d0"/>
<rect x="64" y="295.50" width="1" height="29.20" fill="#a6a6a6"/>
<rect x="66" y="295.50" width="1" height="29.20" fill="#909090"/>
<rect x="67" y="295.50" width="1" height="29.20" fill="#666666"/>
<rect x="68" y="295.50" width="1" height="29.20" fill="#d0d0d0"/>
<rect x="69" y="295.50" width="1" height="29.20" fill="#7b7b7b"/>
<rect x="70" y="295.50" width="1" height="29.20" fill="#909090"/>
<rect x="71" y="295.50" width="1" height="29.20" fill="#bbbbbb"/>
<rect x="72" y="295.50" width="1" height="29.20" fill="#7b7b7b"/>
<rect x="73" y="295.50" width="1" height="29.20" fill="#e6e6e6"/>
<rect x="76" y="295.50" width="1" height="29.20" fill="#a6a6a6"/>
<rect x="77" y="295.50" width="1" height="29.20" fill="#909090"/>
<rect x="78" y="295.50" width="1" height="29.20" fill="#a6a6a6"/>
<rect x="80" y="295.50" width="1" height="29.20" fill="#909090"/>
<rect x="81" y="295.50" width="1" height="29.20" fill="#666666"/>
<rect x="82" y="295.50" width="1" height="29.20" fill="#7b7b7b"/>
<rect x="83" y="295.50" width="1" height="29.20" fill="#7b7b7b"/>
<rect x="84" y="295.50" width="1" height="29.20" fill="#909090"/>
<rect x="85" y="295.50" width="1" height="29.20" fill="#d0d0d0"/>
<rect x="86" y="295.50" width="1" height="29.20" fill="#515151"/>
<rect x="87" y="295.50" width="1" height="29.20" fill="#7b7b7b"/>
<rect x="88" y="295.50" width="1" height="29.20" fill="#666666"/>
<rect x="89" y="295.50" width="1" height="29.20" fill="#bbbbbb"/>
<rect x="91" y="295.50" width="1" height="29.20" fill="#3c3c3c"/>
<rect x="92" y="295.50" width="1" height="29.20" fill="#909090"/>
<rect x="96" y="295.50" width="1" height="29.20" fill="#e6e6e6"/>
<rect x="97" y="295.50" width="1" height="29.20" fill="#bbbbbb"/>
<rect x="98" y="295.50" width="1" height="29.20" fill="#a6a6a6"/>
<rect x="99" y="295.50" width="1" height="29.20" fill="#909090"/>
<rect x="100" y="295.50" width="1" height="29.20" fill="#666666"/>
<rect x="101" y="295.50" width="1" height="29.20" fill="#3c3c3c"/>
<rect x="102" y="295.50" width="1" height="29.20" fill="#d0d0d0"/>
<rect x="103" y="295.50" width="1" height="29.20" fill="#e6e6e6"/>
<rect x="105" y="295.50" width="1" height="29.20" fill="#d0d0d0"/>
<rect x="106" y="295.50" width="1" height="29.20" fill="#666666"/>
<rect x="107" y="295.50" width="1" height="29.20" fill="#515151"/>
<rect x="108" y="295.50" width="1" height="29.20" fill="#a6a6a6"/>
<rect x="109" y="295.50" width="1" height="29.20" fill="#e6e6e6"/>
<rect x="111" y="295.50" width="1" height="29.20" fill="#909090"/>
<rect x="112" y="295.50" width="1" height="29.20" fill="#909090"/>
<rect x="113" y="295.50" width="1" height="29.20" fill="#a6a6a6"/>
<rect x="114" y="295.50" width="1" height="29.20" fill="#7b7b7b"/>
<rect x="115" y="295.50" width="1" height="29.20" fill="#bbbbbb"/>
<rect x="116" y="295.50" width="1" height="29.20" fill="#e6e6e6"/>
<rect x="117" y="295.50" width="1" height="29.20" fill="#a6a6a6"/>
<rect x="118" y="295.50" width="1" height="29.20" fill="#909090"/>
<rect x="119" y="295.50" width="1" height="29.20" fill="#d0d0d0"/>
<rect x="121" y="295.50" width="1" height="29.20" fill="#a6a6a6"/>
<rect x="122" y="295.50" width="1" height="29.20" fill="#bbbbbb"/>
<rect x="123" y="295.50" width="1" height="29.20" fill="#e6e6e6"/>
<rect x="124" y="295.50" width="1" height="29.20" fill="#d0d0d0"/>
<rect x="125" y="295.50" width="1" height="29.20" fill="#bbbbbb"/>
<rect x="129" y="295.50" width="1" height="29.20" fill="#e6e6e6"/>
<rect x="130" y="295.50" width="1" height="29.20" fill="#909090"/>
<rect x="131" y="295.50" width="1" height="29.20" fill="#515151"/>
<rect x="132" y="295.50" width="1" height="29.20" fill="#a6a6a6"/>
<rect x="134" y="295.50" width="1" height="29.20" fill="#d0d0d0"/>
<rect x="135" y="295.50" width="1" height="29.20" fill="#d0d0d0"/>
<rect x="136" y="295.50" width="1" height="29.20" fill="#d0d0d0"/>
<rect x="137" y="295.50" width="1" height="29.20" fill="#515151"/>
<rect x="143" y="295.50" width="1" height="29.20" fill="#e6e6e6"/>
<rect x="144" y="295.50" width="1" height="29.20" fill="#d0d0d0"/>
<rect x="145" y="295.50" width="1" height="29.20" fill="#7b7b7b"/>
<rect x="146" y="295.50" width="1" height="29.20" fill="#e6e6e6"/>
<rect x="147" y="295.50" width="1" height="29.20" fill="#d0d0d0"/>
<rect x="148" y="295.50" width="1" height="29.20" fill="#d0d0d0"/>
<rect x="149" y="295.50" width="1" height="29.20" fill="#d0d0d0"/>
<rect x="150" y="295.50" width="1" height="29.20" fill="#e6e6e6"/>
<rect x="151" y="295.50" width="1" height="29.20" fill="#666666"/>
<rect x="152" y="295.50" width="1" height="29.20" fill="#bbbbbb"/>
<rect x="153" y="295.50" width="1" height="29.20" fill="#e6e6e6"/>
<rect x="154" y="295.50" width="1" height="29.20" fill="#e6e6e6"/>
<rect x="155" y="295.50" width="1" height="29.20" fill="#d0d0d0"/>
<rect x="156" y="295.50" width="1" height="29.20" fill="#bbbbbb"/>
<rect x="157" y="295.50" width="1" height="29.20" fill="#909090"/>
<rect x="158" y="295.50" width="1" height="29.20" fill="#909090"/>
<rect x="159" y="295.50" width="1" height="29.20" fill="#a6a6a6"/>
<rect x="160" y="295.50" width="1" height="29.20" fill="#bbbbbb"/>
<rect x="161" y="295.50" width="1" height="29.20" fill="#a6a6a6"/>
<rect x="162" y="295.50" width="1" height="29.20" fill="#d0d0d0"/>
<rect x="164" y="295.50" width="1" height="29.20" fill="#3c3c3c"/>
<rect x="165" y="295.50" width="1" height="29.20" fill="#bbbbbb"/>
<rect x="166" y="295.50" width="1" height="29.20" fill="#bbbbbb"/>
<rect x="167" y="295.50" width="1" height="29.20" fill="#d0d0d0"/>
<rect x="169" y="295.50" width="1" height="29.20" fill="#bbbbbb"/>
<rect x="170" y="295.50" width="1" height="29.20" fill="#7b7b7b"/>
<rect x="171" y="295.50" width="1" height="29.20" fill="#d0d0d0"/>
<rect x="172" y="295.50" width="1" height="29.20" fill="#d0d0d0"/>
<rect x="173" y="295.50" width="1" height="29.20" fill="#e6e6e6"/>
<rect x="174" y="295.50" width="1" height="29.20" fill="#d0d0d0"/>
<rect x="175" y="295.50" width="1" height="29.20" fill="#bbbbbb"/>
<rect x="176" y="295.50" width="1" height="29.20" fill="#e6e6e6"/>
<rect x="177" y="295.50" width="1" height="29.20" fill="#7b7b7b"/>
<rect x="178" y="295.50" width="1" height="29.20" fill="#e6e6e6"/>
<line x1="180.00" y1="324.70" x2="186.20" y2="324.70" stroke="#dadada" stroke-width="0.9"/>
<rect x="43.90" y="324.70" width="136.10" height="6.10" fill="url(#cbar)"/>
<polyline points="43.00,290.00 43.01,288.67 43.03,287.33 43.04,286.00 43.05,284.67 43.07,283.33 43.08,282.00 43.09,280.67 43.11,279.33 43.12,278.00 43.13,276.67 43.15,275.33 43.16,274.00 43.17,272.67 43.19,271.33 43.20,270.00 43.26,268.58 43.31,266.89 43.37,266.01 43.43,264.77 43.49,262.79 43.54,262.07 43.60,260.30 43.77,258.44 43.94,256.98 44.11,255.63 44.29,254.64 44.46,253.08 44.63,251.34 44.80,250.00 44.97,248.91 45.14,246.68 45.31,245.73 45.49,244.27 45.66,242.56 45.83,240.95 46.00,239.70 46.40,237.93 46.80,237.21 47.20,235.40 47.55,234.12 47.90,232.61 48.25,230.64 48.60,229.40 49.02,228.28 49.45,227.09 49.88,225.79 50.30,224.30 51.70,222.60 52.37,220.81 53.03,219.55 53.70,218.30 54.27,217.13 54.83,215.32 55.40,213.70 57.10,214.00 58.00,212.45 58.90,210.60 60.15,209.26 61.40,208.50 62.70,207.67 64.00,207.10 65.30,208.24 66.60,209.20 68.30,208.50 69.60,209.51 70.90,209.70 72.15,210.40 73.40,211.40 74.70,212.01 76.00,212.60 77.30,213.85 78.60,214.90 80.30,215.70 81.15,214.73 82.00,213.70 83.30,213.92 84.60,214.30 87.10,214.90 88.40,215.02 89.70,214.30 91.00,214.84 92.30,215.70 93.17,217.04 94.03,217.43 94.90,218.80 95.73,220.23 96.57,220.71 97.40,222.20 98.40,223.60 99.57,224.21 100.73,225.22 101.90,226.10 102.75,227.28 103.60,227.69 104.45,228.95 105.30,230.10 106.43,230.99 107.57,232.43 108.70,233.00 109.83,234.05 110.97,235.20 112.10,236.40 112.96,237.44 113.82,238.49 114.68,239.19 115.54,240.86 116.40,241.60 117.48,242.83 118.55,244.15 119.62,245.26 120.70,245.90 121.56,246.81 122.42,247.57 123.28,248.60 124.14,250.12 125.00,251.00 125.86,251.68 126.72,253.29 127.58,254.34 128.44,254.75 129.30,256.10 130.16,257.27 131.02,258.39 131.88,259.24 132.74,260.17 133.60,261.30 135.00,261.40 135.78,262.19 136.56,263.13 137.34,264.51 138.12,265.21 138.90,266.60 139.85,268.03 140.80,269.14 141.75,270.56 142.70,271.50 143.67,272.69 144.65,273.38 145.62,274.86 146.60,275.60 147.67,276.31 148.73,276.83 149.80,277.90 151.10,279.70 152.40,278.80 153.65,280.45 154.90,281.30 156.20,281.74 157.50,282.60 158.45,283.39 159.40,284.60 160.07,283.55 160.73,281.61 161.40,280.70 162.35,282.00 163.30,283.50 164.80,282.20 165.65,283.70 166.50,284.60 168.70,285.20 170.30,286.50 172.30,286.10 174.20,287.80 176.10,289.10 177.20,290.00 177.40,289.13 177.60,287.05 177.80,286.10 179.30,288.20 180.60,289.40" fill="none" stroke="#8cc43c" stroke-width="2.0" stroke-linejoin="round" stroke-linecap="round"/>
<line x1="42.10" y1="203.40" x2="187.80" y2="203.40" stroke="#1a1a1a" stroke-width="1.3"/>
<line x1="42.10" y1="331.30" x2="187.80" y2="331.30" stroke="#1a1a1a" stroke-width="1.2"/>
<line x1="43.00" y1="202.75" x2="43.00" y2="331.90" stroke="#3a3a3a" stroke-width="1.8"/>
<line x1="187.00" y1="202.75" x2="187.00" y2="331.90" stroke="#2a2a2a" stroke-width="1.6"/>
<line x1="39.60" y1="203.80" x2="43.00" y2="203.80" stroke="#222" stroke-width="1"/>
<text x="23.90" y="206.15" font-size="6.5" fill="#3c3c3c" stroke="#3c3c3c" stroke-width="0.12" textLength="12.00" lengthAdjust="spacingAndGlyphs">0.50</text>
<line x1="39.60" y1="212.44" x2="43.00" y2="212.44" stroke="#222" stroke-width="1"/>
<text x="23.90" y="214.79" font-size="6.5" fill="#3c3c3c" stroke="#3c3c3c" stroke-width="0.12" textLength="12.00" lengthAdjust="spacingAndGlyphs">0.45</text>
<line x1="39.60" y1="221.08" x2="43.00" y2="221.08" stroke="#222" stroke-width="1"/>
<text x="23.90" y="223.43" font-size="6.5" fill="#3c3c3c" stroke="#3c3c3c" stroke-width="0.12" textLength="12.00" lengthAdjust="spacingAndGlyphs">0.40</text>
<line x1="39.60" y1="229.72" x2="43.00" y2="229.72" stroke="#222" stroke-width="1"/>
<text x="23.90" y="232.07" font-size="6.5" fill="#3c3c3c" stroke="#3c3c3c" stroke-width="0.12" textLength="12.00" lengthAdjust="spacingAndGlyphs">0.35</text>
<line x1="39.60" y1="238.36" x2="43.00" y2="238.36" stroke="#222" stroke-width="1"/>
<text x="23.90" y="240.71" font-size="6.5" fill="#3c3c3c" stroke="#3c3c3c" stroke-width="0.12" textLength="12.00" lengthAdjust="spacingAndGlyphs">0.30</text>
<line x1="39.60" y1="247.00" x2="43.00" y2="247.00" stroke="#222" stroke-width="1"/>
<text x="23.90" y="249.35" font-size="6.5" fill="#3c3c3c" stroke="#3c3c3c" stroke-width="0.12" textLength="12.00" lengthAdjust="spacingAndGlyphs">0.25</text>
<line x1="39.60" y1="255.64" x2="43.00" y2="255.64" stroke="#222" stroke-width="1"/>
<text x="23.90" y="257.99" font-size="6.5" fill="#3c3c3c" stroke="#3c3c3c" stroke-width="0.12" textLength="12.00" lengthAdjust="spacingAndGlyphs">0.20</text>
<line x1="39.60" y1="264.28" x2="43.00" y2="264.28" stroke="#222" stroke-width="1"/>
<text x="23.90" y="266.63" font-size="6.5" fill="#3c3c3c" stroke="#3c3c3c" stroke-width="0.12" textLength="12.00" lengthAdjust="spacingAndGlyphs">0.15</text>
<line x1="39.60" y1="272.92" x2="43.00" y2="272.92" stroke="#222" stroke-width="1"/>
<text x="23.90" y="275.27" font-size="6.5" fill="#3c3c3c" stroke="#3c3c3c" stroke-width="0.12" textLength="12.00" lengthAdjust="spacingAndGlyphs">0.10</text>
<line x1="39.60" y1="281.56" x2="43.00" y2="281.56" stroke="#222" stroke-width="1"/>
<text x="23.90" y="283.91" font-size="6.5" fill="#3c3c3c" stroke="#3c3c3c" stroke-width="0.12" textLength="12.00" lengthAdjust="spacingAndGlyphs">0.05</text>
<line x1="39.60" y1="290.20" x2="43.00" y2="290.20" stroke="#222" stroke-width="1"/>
<text x="23.90" y="292.55" font-size="6.5" fill="#3c3c3c" stroke="#3c3c3c" stroke-width="0.12" textLength="12.00" lengthAdjust="spacingAndGlyphs">0.00</text>
<text transform="translate(16.70,292.10) rotate(-90)" x="0" y="0" font-size="9" fill="#2e2e2e" stroke="#2e2e2e" stroke-width="0.15" textLength="85.00" lengthAdjust="spacingAndGlyphs">Enrichment score (ES)</text>
<text x="61.00" y="199.70" font-size="8.8" fill="#222" stroke="#222" stroke-width="0.18" textLength="108.80" lengthAdjust="spacingAndGlyphs">MEP Signature (Laurenti et al)</text>
<text x="125.60" y="221.50" font-size="5.6" fill="#333" stroke="#333" stroke-width="0.12" textLength="29.50" lengthAdjust="spacingAndGlyphs">NES = 2.325</text>
<text x="125.10" y="231.30" font-size="5.6" fill="#333" stroke="#333" stroke-width="0.12" textLength="29.70" lengthAdjust="spacingAndGlyphs">FDR = 0.000</text>
<text x="46.00" y="341.20" font-size="6.8" fill="#c8504a" stroke="#c8504a" stroke-width="0.12" textLength="22.80" lengthAdjust="spacingAndGlyphs">HMGA2</text>
<text x="158.80" y="341.20" font-size="6.8" fill="#6064ad" stroke="#6064ad" stroke-width="0.12" textLength="12.10" lengthAdjust="spacingAndGlyphs">CTR</text>
<line x1="249.20" y1="204.80" x2="249.20" y2="294.80" stroke="#f1f1f1" stroke-width="0.9"/>
<line x1="265.30" y1="204.80" x2="265.30" y2="294.80" stroke="#f1f1f1" stroke-width="0.9"/>
<line x1="281.40" y1="204.80" x2="281.40" y2="294.80" stroke="#f1f1f1" stroke-width="0.9"/>
<line x1="297.50" y1="204.80" x2="297.50" y2="294.80" stroke="#f1f1f1" stroke-width="0.9"/>
<line x1="313.60" y1="204.80" x2="313.60" y2="294.80" stroke="#f1f1f1" stroke-width="0.9"/>
<line x1="329.70" y1="204.80" x2="329.70" y2="294.80" stroke="#f1f1f1" stroke-width="0.9"/>
<line x1="345.80" y1="204.80" x2="345.80" y2="294.80" stroke="#f1f1f1" stroke-width="0.9"/>
<line x1="361.90" y1="204.80" x2="361.90" y2="294.80" stroke="#f1f1f1" stroke-width="0.9"/>
<line x1="234.15" y1="206.40" x2="376.70" y2="206.40" stroke="#f1f1f1" stroke-width="0.9"/>
<line x1="234.15" y1="214.13" x2="376.70" y2="214.13" stroke="#f1f1f1" stroke-width="0.9"/>
<line x1="234.15" y1="221.85" x2="376.70" y2="221.85" stroke="#f1f1f1" stroke-width="0.9"/>
<line x1="234.15" y1="229.58" x2="376.70" y2="229.58" stroke="#f1f1f1" stroke-width="0.9"/>
<line x1="234.15" y1="237.31" x2="376.70" y2="237.31" stroke="#f1f1f1" stroke-width="0.9"/>
<line x1="234.15" y1="245.04" x2="376.70" y2="245.04" stroke="#f1f1f1" stroke-width="0.9"/>
<line x1="234.15" y1="252.76" x2="376.70" y2="252.76" stroke="#f1f1f1" stroke-width="0.9"/>
<line x1="234.15" y1="260.49" x2="376.70" y2="260.49" stroke="#f1f1f1" stroke-width="0.9"/>
<line x1="234.15" y1="268.22" x2="376.70" y2="268.22" stroke="#f1f1f1" stroke-width="0.9"/>
<line x1="234.15" y1="275.95" x2="376.70" y2="275.95" stroke="#f1f1f1" stroke-width="0.9"/>
<line x1="234.15" y1="283.67" x2="376.70" y2="283.67" stroke="#f1f1f1" stroke-width="0.9"/>
<line x1="234.15" y1="291.20" x2="376.70" y2="291.20" stroke="#cacaca" stroke-width="1.2"/>
<line x1="234.15" y1="295.30" x2="376.70" y2="295.30" stroke="#d4d4d4" stroke-width="0.8"/>
<rect x="234" y="296.30" width="1" height="29.70" fill="#666666"/>
<rect x="235" y="296.30" width="1" height="29.70" fill="#7b7b7b"/>
<rect x="236" y="296.30" width="1" height="29.70" fill="#262626"/>
<rect x="237" y="296.30" width="1" height="29.70" fill="#3c3c3c"/>
<rect x="238" y="296.30" width="1" height="29.70" fill="#a6a6a6"/>
<rect x="239" y="296.30" width="1" height="29.70" fill="#515151"/>
<rect x="240" y="296.30" width="1" height="29.70" fill="#3c3c3c"/>
<rect x="241" y="296.30" width="1" height="29.70" fill="#262626"/>
<rect x="242" y="296.30" width="1" height="29.70" fill="#666666"/>
<rect x="243" y="296.30" width="1" height="29.70" fill="#262626"/>
<rect x="244" y="296.30" width="1" height="29.70" fill="#3c3c3c"/>
<rect x="245" y="296.30" width="1" height="29.70" fill="#666666"/>
<rect x="246" y="296.30" width="1" height="29.70" fill="#515151"/>
<rect x="247" y="296.30" width="1" height="29.70" fill="#7b7b7b"/>
<rect x="248" y="296.30" width="1" height="29.70" fill="#909090"/>
<rect x="249" y="296.30" width="1" height="29.70" fill="#141414"/>
<rect x="250" y="296.30" width="1" height="29.70" fill="#141414"/>
<rect x="251" y="296.30" width="1" height="29.70" fill="#7b7b7b"/>
<rect x="252" y="296.30" width="1" height="29.70" fill="#d0d0d0"/>
<rect x="253" y="296.30" width="1" height="29.70" fill="#a6a6a6"/>
<rect x="255" y="296.30" width="1" height="29.70" fill="#909090"/>
<rect x="256" y="296.30" width="1" height="29.70" fill="#7b7b7b"/>
<rect x="257" y="296.30" width="1" height="29.70" fill="#d0d0d0"/>
<rect x="258" y="296.30" width="1" height="29.70" fill="#a6a6a6"/>
<rect x="259" y="296.30" width="1" height="29.70" fill="#a6a6a6"/>
<rect x="260" y="296.30" width="1" height="29.70" fill="#a6a6a6"/>
<rect x="261" y="296.30" width="1" height="29.70" fill="#909090"/>
<rect x="262" y="296.30" width="1" height="29.70" fill="#d0d0d0"/>
<rect x="263" y="296.30" width="1" height="29.70" fill="#d0d0d0"/>
<rect x="264" y="296.30" width="1" height="29.70" fill="#bbbbbb"/>
<rect x="266" y="296.30" width="1" height="29.70" fill="#a6a6a6"/>
<rect x="267" y="296.30" width="1" height="29.70" fill="#d0d0d0"/>
<rect x="268" y="296.30" width="1" height="29.70" fill="#d0d0d0"/>
<rect x="269" y="296.30" width="1" height="29.70" fill="#e6e6e6"/>
<rect x="270" y="296.30" width="1" height="29.70" fill="#515151"/>
<rect x="271" y="296.30" width="1" height="29.70" fill="#666666"/>
<rect x="272" y="296.30" width="1" height="29.70" fill="#a6a6a6"/>
<rect x="273" y="296.30" width="1" height="29.70" fill="#7b7b7b"/>
<rect x="275" y="296.30" width="1" height="29.70" fill="#909090"/>
<rect x="276" y="296.30" width="1" height="29.70" fill="#7b7b7b"/>
<rect x="277" y="296.30" width="1" height="29.70" fill="#a6a6a6"/>
<rect x="278" y="296.30" width="1" height="29.70" fill="#7b7b7b"/>
<rect x="279" y="296.30" width="1" height="29.70" fill="#bbbbbb"/>
<rect x="280" y="296.30" width="1" height="29.70" fill="#d0d0d0"/>
<rect x="281" y="296.30" width="1" height="29.70" fill="#a6a6a6"/>
<rect x="282" y="296.30" width="1" height="29.70" fill="#d0d0d0"/>
<rect x="283" y="296.30" width="1" height="29.70" fill="#d0d0d0"/>
<rect x="284" y="296.30" width="1" height="29.70" fill="#d0d0d0"/>
<rect x="287" y="296.30" width="1" height="29.70" fill="#bbbbbb"/>
<rect x="288" y="296.30" width="1" height="29.70" fill="#a6a6a6"/>
<rect x="289" y="296.30" width="1" height="29.70" fill="#7b7b7b"/>
<rect x="290" y="296.30" width="1" height="29.70" fill="#3c3c3c"/>
<rect x="291" y="296.30" width="1" height="29.70" fill="#909090"/>
<rect x="292" y="296.30" width="1" height="29.70" fill="#a6a6a6"/>
<rect x="293" y="296.30" width="1" height="29.70" fill="#909090"/>
<rect x="294" y="296.30" width="1" height="29.70" fill="#7b7b7b"/>
<rect x="295" y="296.30" width="1" height="29.70" fill="#909090"/>
<rect x="296" y="296.30" width="1" height="29.70" fill="#bbbbbb"/>
<rect x="297" y="296.30" width="1" height="29.70" fill="#7b7b7b"/>
<rect x="298" y="296.30" width="1" height="29.70" fill="#e6e6e6"/>
<rect x="299" y="296.30" width="1" height="29.70" fill="#d0d0d0"/>
<rect x="301" y="296.30" width="1" height="29.70" fill="#909090"/>
<rect x="302" y="296.30" width="1" height="29.70" fill="#7b7b7b"/>
<rect x="303" y="296.30" width="1" height="29.70" fill="#262626"/>
<rect x="304" y="296.30" width="1" height="29.70" fill="#909090"/>
<rect x="305" y="296.30" width="1" height="29.70" fill="#d0d0d0"/>
<rect x="306" y="296.30" width="1" height="29.70" fill="#262626"/>
<rect x="307" y="296.30" width="1" height="29.70" fill="#515151"/>
<rect x="309" y="296.30" width="1" height="29.70" fill="#d0d0d0"/>
<rect x="310" y="296.30" width="1" height="29.70" fill="#e6e6e6"/>
<rect x="311" y="296.30" width="1" height="29.70" fill="#e6e6e6"/>
<rect x="312" y="296.30" width="1" height="29.70" fill="#7b7b7b"/>
<rect x="313" y="296.30" width="1" height="29.70" fill="#909090"/>
<rect x="314" y="296.30" width="1" height="29.70" fill="#a6a6a6"/>
<rect x="317" y="296.30" width="1" height="29.70" fill="#909090"/>
<rect x="318" y="296.30" width="1" height="29.70" fill="#e6e6e6"/>
<rect x="320" y="296.30" width="1" height="29.70" fill="#e6e6e6"/>
<rect x="321" y="296.30" width="1" height="29.70" fill="#7b7b7b"/>
<rect x="322" y="296.30" width="1" height="29.70" fill="#909090"/>
<rect x="323" y="296.30" width="1" height="29.70" fill="#909090"/>
<rect x="324" y="296.30" width="1" height="29.70" fill="#bbbbbb"/>
<rect x="325" y="296.30" width="1" height="29.70" fill="#d0d0d0"/>
<rect x="327" y="296.30" width="1" height="29.70" fill="#909090"/>
<rect x="328" y="296.30" width="1" height="29.70" fill="#e6e6e6"/>
<rect x="329" y="296.30" width="1" height="29.70" fill="#bbbbbb"/>
<rect x="331" y="296.30" width="1" height="29.70" fill="#e6e6e6"/>
<rect x="333" y="296.30" width="1" height="29.70" fill="#bbbbbb"/>
<rect x="334" y="296.30" width="1" height="29.70" fill="#666666"/>
<rect x="335" y="296.30" width="1" height="29.70" fill="#e6e6e6"/>
<rect x="337" y="296.30" width="1" height="29.70" fill="#515151"/>
<rect x="338" y="296.30" width="1" height="29.70" fill="#a6a6a6"/>
<rect x="339" y="296.30" width="1" height="29.70" fill="#a6a6a6"/>
<rect x="340" y="296.30" width="1" height="29.70" fill="#a6a6a6"/>
<rect x="341" y="296.30" width="1" height="29.70" fill="#bbbbbb"/>
<rect x="342" y="296.30" width="1" height="29.70" fill="#d0d0d0"/>
<rect x="343" y="296.30" width="1" height="29.70" fill="#e6e6e6"/>
<rect x="345" y="296.30" width="1" height="29.70" fill="#bbbbbb"/>
<rect x="346" y="296.30" width="1" height="29.70" fill="#666666"/>
<rect x="347" y="296.30" width="1" height="29.70" fill="#d0d0d0"/>
<rect x="348" y="296.30" width="1" height="29.70" fill="#e6e6e6"/>
<rect x="349" y="296.30" width="1" height="29.70" fill="#909090"/>
<rect x="350" y="296.30" width="1" height="29.70" fill="#909090"/>
<rect x="351" y="296.30" width="1" height="29.70" fill="#a6a6a6"/>
<rect x="354" y="296.30" width="1" height="29.70" fill="#e6e6e6"/>
<rect x="355" y="296.30" width="1" height="29.70" fill="#bbbbbb"/>
<rect x="359" y="296.30" width="1" height="29.70" fill="#909090"/>
<rect x="360" y="296.30" width="1" height="29.70" fill="#515151"/>
<rect x="361" y="296.30" width="1" height="29.70" fill="#a6a6a6"/>
<rect x="365" y="296.30" width="1" height="29.70" fill="#e6e6e6"/>
<rect x="366" y="296.30" width="1" height="29.70" fill="#a6a6a6"/>
<rect x="367" y="296.30" width="1" height="29.70" fill="#d0d0d0"/>
<line x1="370.90" y1="326.00" x2="376.70" y2="326.00" stroke="#dadada" stroke-width="0.9"/>
<rect x="234.15" y="326.00" width="136.75" height="5.80" fill="url(#cbar)"/>
<polyline points="233.50,291.00 233.50,289.70 233.51,288.40 233.51,287.10 233.52,285.80 233.52,284.50 233.53,283.20 233.53,281.90 233.53,280.60 233.54,279.30 233.54,278.00 233.55,276.70 233.55,275.40 233.56,274.10 233.56,272.80 233.57,271.50 233.57,270.20 233.57,268.90 233.58,267.60 233.58,266.30 233.59,265.00 233.59,263.70 233.60,262.40 233.60,261.10 233.67,259.96 233.75,258.64 233.82,256.93 233.90,255.77 233.97,254.19 234.05,252.65 234.12,251.30 234.20,250.00 234.42,248.20 234.65,247.27 234.88,245.94 235.10,244.00 236.50,242.30 236.68,240.44 236.85,239.66 237.02,237.65 237.20,236.30 237.67,235.15 238.13,233.05 238.60,232.00 239.90,231.10 240.50,229.67 241.10,227.70 241.32,226.07 241.55,224.57 241.78,223.37 242.00,221.70 242.45,220.41 242.90,218.30 244.60,216.60 245.45,215.55 246.30,214.30 247.15,212.94 248.00,211.40 248.85,209.57 249.70,208.50 251.40,208.50 252.60,210.20 254.00,208.50 255.70,209.70 256.55,210.61 257.40,211.90 258.70,211.42 260.00,210.90 261.30,211.64 262.60,211.90 263.85,212.52 265.10,213.10 266.40,214.02 267.70,215.70 269.80,216.60 271.50,214.90 272.60,216.00 273.70,216.60 275.00,217.72 276.30,218.30 277.43,219.21 278.57,219.97 279.70,220.50 280.83,221.42 281.97,221.46 283.10,222.60 285.00,224.30 286.02,225.46 287.04,226.61 288.06,227.66 289.08,228.41 290.10,229.40 291.40,230.49 292.70,230.95 294.00,231.88 295.30,232.90 296.32,233.54 297.34,234.66 298.36,235.53 299.38,236.34 300.40,237.10 301.44,238.26 302.48,238.88 303.52,239.79 304.56,240.41 305.60,241.40 306.62,242.16 307.64,243.55 308.66,244.26 309.68,245.55 310.70,246.60 311.57,247.21 312.43,248.57 313.30,249.23 314.17,250.89 315.03,251.95 315.90,252.60 316.75,253.60 317.60,254.27 318.45,255.79 319.30,256.69 320.15,257.49 321.00,258.60 322.02,259.97 323.04,260.78 324.06,261.25 325.08,263.11 326.10,263.70 327.40,264.41 328.70,265.22 330.00,266.60 331.07,267.55 332.13,269.58 333.20,270.40 334.27,270.83 335.33,272.16 336.40,273.00 338.40,272.70 340.00,273.96 341.60,274.90 343.20,276.43 344.80,277.10 346.10,278.35 347.40,278.80 349.30,280.10 350.60,280.57 351.90,280.70 353.15,281.55 354.40,283.00 355.70,284.19 357.00,285.60 358.90,287.10 359.85,285.86 360.80,283.90 361.80,284.81 362.80,285.80 364.05,287.24 365.30,288.70 367.00,288.20 368.60,289.70 369.55,291.06 370.50,291.60" fill="none" stroke="#8cc43c" stroke-width="2.0" stroke-linejoin="round" stroke-linecap="round"/>
<line x1="232.85" y1="204.20" x2="378.10" y2="204.20" stroke="#1a1a1a" stroke-width="1.2"/>
<line x1="232.85" y1="332.20" x2="378.10" y2="332.20" stroke="#1a1a1a" stroke-width="1.0"/>
<line x1="233.50" y1="203.60" x2="233.50" y2="332.70" stroke="#111111" stroke-width="1.3"/>
<line x1="377.40" y1="203.60" x2="377.40" y2="332.70" stroke="#222222" stroke-width="1.4"/>
<line x1="230.10" y1="206.40" x2="233.50" y2="206.40" stroke="#222" stroke-width="1"/>
<text x="213.90" y="208.75" font-size="6.5" fill="#3c3c3c" stroke="#3c3c3c" stroke-width="0.12" textLength="12.00" lengthAdjust="spacingAndGlyphs">0.55</text>
<line x1="230.10" y1="214.13" x2="233.50" y2="214.13" stroke="#222" stroke-width="1"/>
<text x="213.90" y="216.48" font-size="6.5" fill="#3c3c3c" stroke="#3c3c3c" stroke-width="0.12" textLength="12.00" lengthAdjust="spacingAndGlyphs">0.50</text>
<line x1="230.10" y1="221.85" x2="233.50" y2="221.85" stroke="#222" stroke-width="1"/>
<text x="213.90" y="224.20" font-size="6.5" fill="#3c3c3c" stroke="#3c3c3c" stroke-width="0.12" textLength="12.00" lengthAdjust="spacingAndGlyphs">0.45</text>
<line x1="230.10" y1="229.58" x2="233.50" y2="229.58" stroke="#222" stroke-width="1"/>
<text x="213.90" y="231.93" font-size="6.5" fill="#3c3c3c" stroke="#3c3c3c" stroke-width="0.12" textLength="12.00" lengthAdjust="spacingAndGlyphs">0.40</text>
<line x1="230.10" y1="237.31" x2="233.50" y2="237.31" stroke="#222" stroke-width="1"/>
<text x="213.90" y="239.66" font-size="6.5" fill="#3c3c3c" stroke="#3c3c3c" stroke-width="0.12" textLength="12.00" lengthAdjust="spacingAndGlyphs">0.35</text>
<line x1="230.10" y1="245.04" x2="233.50" y2="245.04" stroke="#222" stroke-width="1"/>
<text x="213.90" y="247.39" font-size="6.5" fill="#3c3c3c" stroke="#3c3c3c" stroke-width="0.12" textLength="12.00" lengthAdjust="spacingAndGlyphs">0.30</text>
<line x1="230.10" y1="252.76" x2="233.50" y2="252.76" stroke="#222" stroke-width="1"/>
<text x="213.90" y="255.11" font-size="6.5" fill="#3c3c3c" stroke="#3c3c3c" stroke-width="0.12" textLength="12.00" lengthAdjust="spacingAndGlyphs">0.25</text>
<line x1="230.10" y1="260.49" x2="233.50" y2="260.49" stroke="#222" stroke-width="1"/>
<text x="213.90" y="262.84" font-size="6.5" fill="#3c3c3c" stroke="#3c3c3c" stroke-width="0.12" textLength="12.00" lengthAdjust="spacingAndGlyphs">0.20</text>
<line x1="230.10" y1="268.22" x2="233.50" y2="268.22" stroke="#222" stroke-width="1"/>
<text x="213.90" y="270.57" font-size="6.5" fill="#3c3c3c" stroke="#3c3c3c" stroke-width="0.12" textLength="12.00" lengthAdjust="spacingAndGlyphs">0.15</text>
<line x1="230.10" y1="275.95" x2="233.50" y2="275.95" stroke="#222" stroke-width="1"/>
<text x="213.90" y="278.30" font-size="6.5" fill="#3c3c3c" stroke="#3c3c3c" stroke-width="0.12" textLength="12.00" lengthAdjust="spacingAndGlyphs">0.10</text>
<line x1="230.10" y1="283.67" x2="233.50" y2="283.67" stroke="#222" stroke-width="1"/>
<text x="213.90" y="286.02" font-size="6.5" fill="#3c3c3c" stroke="#3c3c3c" stroke-width="0.12" textLength="12.00" lengthAdjust="spacingAndGlyphs">0.05</text>
<line x1="230.10" y1="291.40" x2="233.50" y2="291.40" stroke="#222" stroke-width="1"/>
<text x="213.90" y="293.75" font-size="6.5" fill="#3c3c3c" stroke="#3c3c3c" stroke-width="0.12" textLength="12.00" lengthAdjust="spacingAndGlyphs">0.00</text>
<text transform="translate(206.40,292.30) rotate(-90)" x="0" y="0" font-size="9" fill="#2e2e2e" stroke="#2e2e2e" stroke-width="0.15" textLength="85.00" lengthAdjust="spacingAndGlyphs">Enrichment score (ES)</text>
<text x="258.80" y="199.70" font-size="8.8" fill="#222" stroke="#222" stroke-width="0.18" textLength="92.90" lengthAdjust="spacingAndGlyphs">EryUP (Novershtern et al)</text>
<text x="305.80" y="219.20" font-size="5.6" fill="#333" stroke="#333" stroke-width="0.12" textLength="29.00" lengthAdjust="spacingAndGlyphs">NES = 2.683</text>
<text x="305.80" y="229.00" font-size="5.6" fill="#333" stroke="#333" stroke-width="0.12" textLength="28.80" lengthAdjust="spacingAndGlyphs">FDR = 0.000</text>
<text x="236.30" y="341.80" font-size="6.8" fill="#c8504a" stroke="#c8504a" stroke-width="0.12" textLength="23.10" lengthAdjust="spacingAndGlyphs">HMGA2</text>
<text x="349.60" y="341.80" font-size="6.8" fill="#6064ad" stroke="#6064ad" stroke-width="0.12" textLength="11.50" lengthAdjust="spacingAndGlyphs">CTR</text>
<line x1="409.00" y1="35.40" x2="512.60" y2="35.40" stroke="#1a1a1a" stroke-width="1.2"/>
<line x1="409.00" y1="50.60" x2="512.60" y2="50.60" stroke="#1a1a1a" stroke-width="1.2"/>
<line x1="409.00" y1="64.83" x2="512.60" y2="64.83" stroke="#1a1a1a" stroke-width="1.2"/>
<line x1="409.00" y1="79.06" x2="512.60" y2="79.06" stroke="#1a1a1a" stroke-width="1.2"/>
<line x1="409.00" y1="93.30" x2="512.60" y2="93.30" stroke="#1a1a1a" stroke-width="1.2"/>
<line x1="409.00" y1="107.53" x2="512.60" y2="107.53" stroke="#1a1a1a" stroke-width="1.2"/>
<line x1="409.00" y1="121.76" x2="512.60" y2="121.76" stroke="#1a1a1a" stroke-width="1.2"/>
<line x1="409.00" y1="136.00" x2="512.60" y2="136.00" stroke="#1a1a1a" stroke-width="1.2"/>
<line x1="409.00" y1="150.23" x2="512.60" y2="150.23" stroke="#1a1a1a" stroke-width="1.2"/>
<line x1="409.00" y1="164.46" x2="512.60" y2="164.46" stroke="#1a1a1a" stroke-width="1.2"/>
<line x1="409.00" y1="178.69" x2="512.60" y2="178.69" stroke="#1a1a1a" stroke-width="1.2"/>
<line x1="409.00" y1="192.92" x2="512.60" y2="192.92" stroke="#1a1a1a" stroke-width="1.2"/>
<line x1="409.00" y1="207.16" x2="512.60" y2="207.16" stroke="#1a1a1a" stroke-width="1.2"/>
<line x1="409.00" y1="221.39" x2="512.60" y2="221.39" stroke="#1a1a1a" stroke-width="1.2"/>
<line x1="409.00" y1="235.62" x2="512.60" y2="235.62" stroke="#1a1a1a" stroke-width="1.2"/>
<line x1="409.00" y1="249.85" x2="512.60" y2="249.85" stroke="#1a1a1a" stroke-width="1.2"/>
<line x1="409.00" y1="264.09" x2="512.60" y2="264.09" stroke="#1a1a1a" stroke-width="1.2"/>
<line x1="409.00" y1="278.32" x2="512.60" y2="278.32" stroke="#1a1a1a" stroke-width="1.2"/>
<line x1="409.00" y1="292.55" x2="512.60" y2="292.55" stroke="#1a1a1a" stroke-width="1.2"/>
<line x1="409.00" y1="306.79" x2="512.60" y2="306.79" stroke="#1a1a1a" stroke-width="1.2"/>
<line x1="409.00" y1="321.02" x2="512.60" y2="321.02" stroke="#1a1a1a" stroke-width="1.2"/>
<line x1="409.00" y1="335.25" x2="512.60" y2="335.25" stroke="#1a1a1a" stroke-width="1.2"/>
<line x1="409.60" y1="34.80" x2="409.60" y2="335.85" stroke="#1a1a1a" stroke-width="1.3"/>
<line x1="460.60" y1="34.80" x2="460.60" y2="335.85" stroke="#1a1a1a" stroke-width="1.3"/>
<line x1="512.00" y1="34.80" x2="512.00" y2="335.85" stroke="#1a1a1a" stroke-width="1.3"/>
<text x="413.70" y="48.30" font-size="6.3" fill="#2a2a2a" stroke="#2a2a2a" stroke-width="0.18" textLength="14.60" lengthAdjust="spacingAndGlyphs">Gene</text>
<text x="467.00" y="48.30" font-size="6.3" fill="#2a2a2a" stroke="#2a2a2a" stroke-width="0.18" textLength="36.90" lengthAdjust="spacingAndGlyphs">Fold Change</text>
<text x="414.00" y="61.50" font-size="6.3" fill="#2a2a2a" stroke="#2a2a2a" stroke-width="0.18" textLength="22.30" lengthAdjust="spacingAndGlyphs">HMGA2</text>
<text x="466.50" y="60.90" font-size="6.3" fill="#2a2a2a" stroke="#2a2a2a" stroke-width="0.18" textLength="34.40" lengthAdjust="spacingAndGlyphs">82,6935461</text>
<text x="414.00" y="76.30" font-size="6.3" fill="#2a2a2a" stroke="#2a2a2a" stroke-width="0.18" textLength="12.50" lengthAdjust="spacingAndGlyphs">HBZ</text>
<text x="466.50" y="76.30" font-size="6.3" fill="#2a2a2a" stroke="#2a2a2a" stroke-width="0.18" textLength="34.40" lengthAdjust="spacingAndGlyphs">4,33283033</text>
<g fill="#c23a2f"><rect x="387.6" y="72.00" width="8.5" height="1.6"/><path d="M406.3,72.80 L394.2,67.80 L396.6,72.80 L394.2,77.80 Z"/></g>
<text x="414.00" y="90.20" font-size="6.3" fill="#2a2a2a" stroke="#2a2a2a" stroke-width="0.18" textLength="21.80" lengthAdjust="spacingAndGlyphs">ATP1B2</text>
<text x="466.50" y="90.20" font-size="6.3" fill="#2a2a2a" stroke="#2a2a2a" stroke-width="0.18" textLength="34.40" lengthAdjust="spacingAndGlyphs">4,31751521</text>
<text x="414.00" y="103.50" font-size="6.3" fill="#2a2a2a" stroke="#2a2a2a" stroke-width="0.18" textLength="22.80" lengthAdjust="spacingAndGlyphs">ZNF319</text>
<text x="466.50" y="104.50" font-size="6.3" fill="#2a2a2a" stroke="#2a2a2a" stroke-width="0.18" textLength="34.40" lengthAdjust="spacingAndGlyphs">4,27929822</text>
<text x="414.00" y="118.50" font-size="6.3" fill="#2a2a2a" stroke="#2a2a2a" stroke-width="0.18" textLength="15.50" lengthAdjust="spacingAndGlyphs">HBA1</text>
<text x="466.50" y="118.50" font-size="6.3" fill="#2a2a2a" stroke="#2a2a2a" stroke-width="0.18" textLength="34.40" lengthAdjust="spacingAndGlyphs">4,24568664</text>
<g fill="#c23a2f"><rect x="387.6" y="113.70" width="8.5" height="1.6"/><path d="M406.3,114.50 L394.2,109.50 L396.6,114.50 L394.2,119.50 Z"/></g>
<text x="414.00" y="132.30" font-size="6.3" fill="#2a2a2a" stroke="#2a2a2a" stroke-width="0.18" textLength="15.80" lengthAdjust="spacingAndGlyphs">HBA2</text>
<text x="466.50" y="132.30" font-size="6.3" fill="#2a2a2a" stroke="#2a2a2a" stroke-width="0.18" textLength="34.40" lengthAdjust="spacingAndGlyphs">3,97844544</text>
<g fill="#c23a2f"><rect x="387.6" y="128.30" width="8.5" height="1.6"/><path d="M406.3,129.10 L394.2,124.10 L396.6,129.10 L394.2,134.10 Z"/></g>
<text x="412.00" y="147.70" font-size="6.3" fill="#2a2a2a" stroke="#2a2a2a" stroke-width="0.18" textLength="7.30" lengthAdjust="spacingAndGlyphs">C3</text>
<text x="466.50" y="147.70" font-size="6.3" fill="#2a2a2a" stroke="#2a2a2a" stroke-width="0.18" textLength="30.20" lengthAdjust="spacingAndGlyphs">2,9820891</text>
<text x="414.00" y="161.60" font-size="6.3" fill="#2a2a2a" stroke="#2a2a2a" stroke-width="0.18" textLength="21.40" lengthAdjust="spacingAndGlyphs">GABRQ</text>
<text x="466.50" y="161.60" font-size="6.3" fill="#2a2a2a" stroke="#2a2a2a" stroke-width="0.18" textLength="34.40" lengthAdjust="spacingAndGlyphs">2,92402583</text>
<text x="414.00" y="175.40" font-size="6.3" fill="#2a2a2a" stroke="#2a2a2a" stroke-width="0.18" textLength="14.90" lengthAdjust="spacingAndGlyphs">PKLR</text>
<text x="466.50" y="175.40" font-size="6.3" fill="#2a2a2a" stroke="#2a2a2a" stroke-width="0.18" textLength="34.40" lengthAdjust="spacingAndGlyphs">2,49630497</text>
<g fill="#c23a2f"><rect x="387.6" y="168.60" width="8.5" height="1.6"/><path d="M406.3,169.40 L394.2,164.40 L396.6,169.40 L394.2,174.40 Z"/></g>
<text x="414.00" y="189.50" font-size="6.3" fill="#2a2a2a" stroke="#2a2a2a" stroke-width="0.18" textLength="20.80" lengthAdjust="spacingAndGlyphs">MED18</text>
<text x="466.50" y="189.50" font-size="6.3" fill="#2a2a2a" stroke="#2a2a2a" stroke-width="0.18" textLength="34.40" lengthAdjust="spacingAndGlyphs">2,38422546</text>
<text x="414.00" y="203.70" font-size="6.3" fill="#2a2a2a" stroke="#2a2a2a" stroke-width="0.18" textLength="27.30" lengthAdjust="spacingAndGlyphs">FLJ30403</text>
<text x="466.50" y="203.70" font-size="6.3" fill="#2a2a2a" stroke="#2a2a2a" stroke-width="0.18" textLength="34.40" lengthAdjust="spacingAndGlyphs">2,34812801</text>
<text x="414.00" y="217.60" font-size="6.3" fill="#2a2a2a" stroke="#2a2a2a" stroke-width="0.18" textLength="21.80" lengthAdjust="spacingAndGlyphs">MMP12</text>
<text x="466.50" y="217.60" font-size="6.3" fill="#2a2a2a" stroke="#2a2a2a" stroke-width="0.18" textLength="34.40" lengthAdjust="spacingAndGlyphs">2,32286039</text>
<text x="414.00" y="231.90" font-size="6.3" fill="#2a2a2a" stroke="#2a2a2a" stroke-width="0.18" textLength="27.70" lengthAdjust="spacingAndGlyphs">SLC25A21</text>
<text x="466.50" y="231.90" font-size="6.3" fill="#2a2a2a" stroke="#2a2a2a" stroke-width="0.18" textLength="34.40" lengthAdjust="spacingAndGlyphs">2,25199826</text>
<text x="414.00" y="246.90" font-size="6.3" fill="#2a2a2a" stroke="#2a2a2a" stroke-width="0.18" textLength="26.70" lengthAdjust="spacingAndGlyphs">IGF2BP2</text>
<text x="466.50" y="246.90" font-size="6.3" fill="#2a2a2a" stroke="#2a2a2a" stroke-width="0.18" textLength="30.20" lengthAdjust="spacingAndGlyphs">2,2517937</text>
<text x="414.00" y="261.30" font-size="6.3" fill="#2a2a2a" stroke="#2a2a2a" stroke-width="0.18" textLength="15.80" lengthAdjust="spacingAndGlyphs">GPX3</text>
<text x="466.50" y="261.30" font-size="6.3" fill="#2a2a2a" stroke="#2a2a2a" stroke-width="0.18" textLength="34.40" lengthAdjust="spacingAndGlyphs">2,24429531</text>
<text x="414.00" y="275.20" font-size="6.3" fill="#2a2a2a" stroke="#2a2a2a" stroke-width="0.18" textLength="21.20" lengthAdjust="spacingAndGlyphs">CXADR</text>
<text x="466.50" y="275.20" font-size="6.3" fill="#2a2a2a" stroke="#2a2a2a" stroke-width="0.18" textLength="34.40" lengthAdjust="spacingAndGlyphs">2,24304913</text>
<text x="414.00" y="289.90" font-size="6.3" fill="#2a2a2a" stroke="#2a2a2a" stroke-width="0.18" textLength="16.40" lengthAdjust="spacingAndGlyphs">GYPB</text>
<text x="466.50" y="289.90" font-size="6.3" fill="#2a2a2a" stroke="#2a2a2a" stroke-width="0.18" textLength="34.40" lengthAdjust="spacingAndGlyphs">2,21151747</text>
<g fill="#c23a2f"><rect x="387.6" y="283.00" width="8.5" height="1.6"/><path d="M406.3,283.80 L394.2,278.80 L396.6,283.80 L394.2,288.80 Z"/></g>
<text x="414.00" y="304.30" font-size="6.3" fill="#2a2a2a" stroke="#2a2a2a" stroke-width="0.18" textLength="12.30" lengthAdjust="spacingAndGlyphs">HBB</text>
<text x="466.50" y="304.30" font-size="6.3" fill="#2a2a2a" stroke="#2a2a2a" stroke-width="0.18" textLength="30.20" lengthAdjust="spacingAndGlyphs">2,2105556</text>
<g fill="#c23a2f"><rect x="387.6" y="298.60" width="8.5" height="1.6"/><path d="M406.3,299.40 L394.2,294.40 L396.6,299.40 L394.2,304.40 Z"/></g>
<text x="414.00" y="318.10" font-size="6.3" fill="#2a2a2a" stroke="#2a2a2a" stroke-width="0.18" textLength="14.90" lengthAdjust="spacingAndGlyphs">SPTB</text>
<text x="466.50" y="318.10" font-size="6.3" fill="#2a2a2a" stroke="#2a2a2a" stroke-width="0.18" textLength="34.40" lengthAdjust="spacingAndGlyphs">2,17512778</text>
<g fill="#c23a2f"><rect x="387.6" y="314.40" width="8.5" height="1.6"/><path d="M406.3,315.20 L394.2,310.20 L396.6,315.20 L394.2,320.20 Z"/></g>
<text x="414.00" y="332.60" font-size="6.3" fill="#2a2a2a" stroke="#2a2a2a" stroke-width="0.18" textLength="27.70" lengthAdjust="spacingAndGlyphs">RAP1GAP</text>
<text x="466.50" y="332.60" font-size="6.3" fill="#2a2a2a" stroke="#2a2a2a" stroke-width="0.18" textLength="34.40" lengthAdjust="spacingAndGlyphs">2,17076078</text>
<text x="8.6" y="18.4" font-size="12.4" fill="#1a1a1a" textLength="7.5" lengthAdjust="spacingAndGlyphs">A</text>
<text x="8.9" y="185.4" font-size="12.4" fill="#1a1a1a" textLength="6.6" lengthAdjust="spacingAndGlyphs">B</text>
<text x="387.8" y="18.6" font-size="12.4" fill="#1a1a1a" textLength="7.5" lengthAdjust="spacingAndGlyphs">C</text>
<rect x="0" y="0" width="520" height="1.5" fill="#4f4f4f"/>
<rect x="518" y="0" width="2" height="350" fill="#555"/>
<rect x="0" y="348" width="520" height="2" fill="#4a4a4a"/>
<rect x="0" y="0" width="1" height="350" fill="#111"/>
</svg>
</body></html>
